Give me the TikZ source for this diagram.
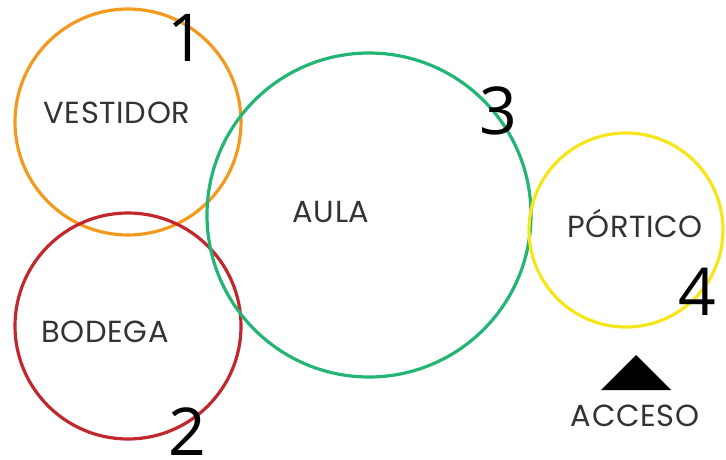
\documentclass[tikz,border=0pt]{standalone}
\usepackage{fontspec}
\setmainfont{Poppins}
\newfontfamily\numfont{Open Sans}
\usepackage{tikz}
\usetikzlibrary{positioning}
\definecolor{vestcol}{HTML}{F39A1E}
\definecolor{bodcol}{HTML}{C1272D}
\definecolor{aulacol}{HTML}{22B573}
\definecolor{portcol}{HTML}{F7E51B}

\begin{document}
\begin{tikzpicture}[x=1pt, y=-1pt,
  zone/.style={draw, circle, line width=3.2pt, inner sep=0pt},
  lbl/.style={anchor=base, font=\addfontfeatures{LetterSpace=2}\fontsize{30.5}{31}\selectfont, text=black!80, inner sep=0pt},
  num/.style={anchor=base, font=\numfont\fontsize{66}{66}\selectfont, inner sep=0pt}]
\useasboundingbox (0,0) rectangle (726,460);
% espacios
\node[zone, vestcol, minimum size=226pt] (vest) at (128,122) {};
\node[zone, bodcol, minimum size=226pt] (bod) at (128,326) {};
\node[zone, aulacol, minimum size=324pt] (aula) at (369,215) {};
\node[zone, portcol, minimum size=194pt] (port) at (626,230) {};
% nombres
\node[lbl] (tvest) at (117,124) {VESTIDOR};
\node[lbl] (tbod) at (105,342) {BODEGA};
\node[lbl] (taula) at (331,222) {AULA};
\node[lbl] (tport) at (635,237) {PÓRTICO};
\node[lbl] (tacc) at (635,426) {ACCESO};
% acceso
\coordinate (tip) at (636,355);
\fill (tip) -- ++(35,35) -- ++(-70,0) -- cycle;
% numeros
\node[num] (n1) at (186,62) {1};
\node[num] (n2) at (187,455) {2};
\node[num] (n3) at (498,135) {3};
\node[num] (n4) at (697,315) {4};
\end{tikzpicture}
\end{document}
